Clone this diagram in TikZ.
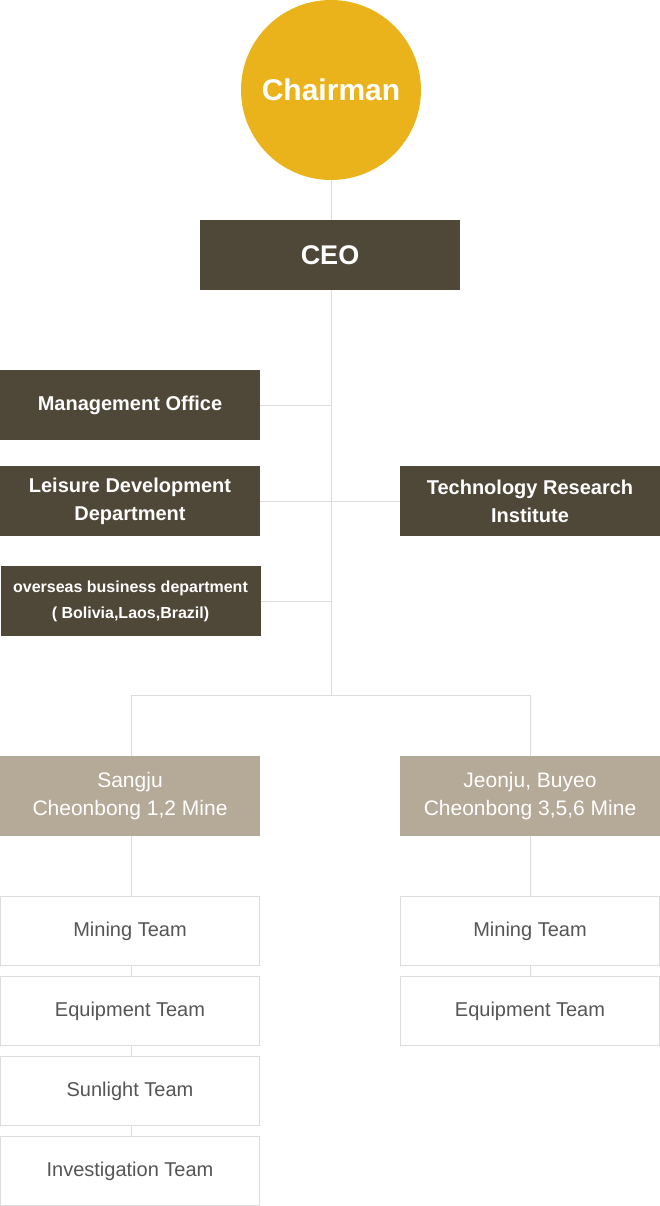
\documentclass[tikz,border=0pt]{standalone}
\usepackage{fontspec}
\setmainfont{Liberation Sans}
\usepackage{tikz}
\usetikzlibrary{positioning}
\definecolor{gold}{HTML}{EAB31B}
\definecolor{darkbrown}{HTML}{4F4737}
\definecolor{taupe}{HTML}{B5A998}
\definecolor{linegray}{HTML}{DDDDDD}
\definecolor{textgray}{HTML}{555555}

\begin{document}
\begin{tikzpicture}[x=1pt, y=-1pt]
	\useasboundingbox (0,0) rectangle (660,1206);

	\begin{scope}[every node/.style={rectangle, fill=darkbrown, text=white, font=\fontsize{20}{28}\selectfont\bfseries, minimum width=260, minimum height=70, inner sep=0pt, align=center}]
		\node[circle, fill=gold, minimum size=180, font=\fontsize{30}{34}\selectfont\bfseries] (chairman) at (331,90) {Chairman};
		\node[font=\fontsize{27}{30}\selectfont\bfseries] (ceo) at (330,255) {CEO};
		\node (mgmt) at (130,405) {Management Office};
		\node (leisure) at (130,501) {Leisure Development\\Department};
		\node (tech) at (530,501) {Technology Research\\Institute};
		\node[font=\fontsize{16}{26}\selectfont\bfseries] (overseas) at (130.5,601) {overseas business department\\( Bolivia,Laos,Brazil)};
		\node[fill=taupe, minimum height=80, font=\fontsize{21}{28}\selectfont] (sangju) at (130,796) {Sangju\\Cheonbong 1,2 Mine};
		\node[fill=taupe, minimum height=80, font=\fontsize{21}{28}\selectfont] (jeonju) at (530,796) {Jeonju, Buyeo\\Cheonbong 3,5,6 Mine};
	\end{scope}

	\begin{scope}[every node/.style={rectangle, draw=linegray, line width=1pt, fill=white, text=textgray, font=\fontsize{20}{24}\selectfont, minimum width=259, minimum height=69, inner sep=0pt}]
		\node (mining1) at (130,931) {Mining Team};
		\node (equip1) at (130,1011) {Equipment Team};
		\node (sun1) at (130,1091) {Sunlight Team};
		\node (invest1) at (130,1171) {Investigation Team};
		\node (mining2) at (530,931) {Mining Team};
		\node (equip2) at (530,1011) {Equipment Team};
	\end{scope}

	\coordinate (split) at (331,695);

	\begin{scope}[every edge/.style={draw=linegray, line width=1pt}]
		\path (chairman.south) edge (chairman.south |- ceo.north);
		\path (ceo.south -| chairman.south) edge (split);
		\path (mgmt.east) edge (mgmt.east -| split);
		\path (leisure.east) edge (tech.west);
		\path (overseas.east) edge (overseas.east -| split);
		\path (sangju.north -| 131,0) edge[to path={|- (\tikztotarget)}] (split);
		\path (split) edge[to path={-| (\tikztotarget)}] (jeonju.north);
		\path (sangju.south -| 131,0) edge (mining1.north -| 131,0);
		\path (jeonju.south) edge (mining2.north);
		\path (mining1.south -| 131,0) edge (equip1.north -| 131,0);
		\path (equip1.south -| 131,0) edge (sun1.north -| 131,0);
		\path (sun1.south -| 131,0) edge (invest1.north -| 131,0);
		\path (mining2.south) edge (equip2.north);
	\end{scope}
\end{tikzpicture}
\end{document}
